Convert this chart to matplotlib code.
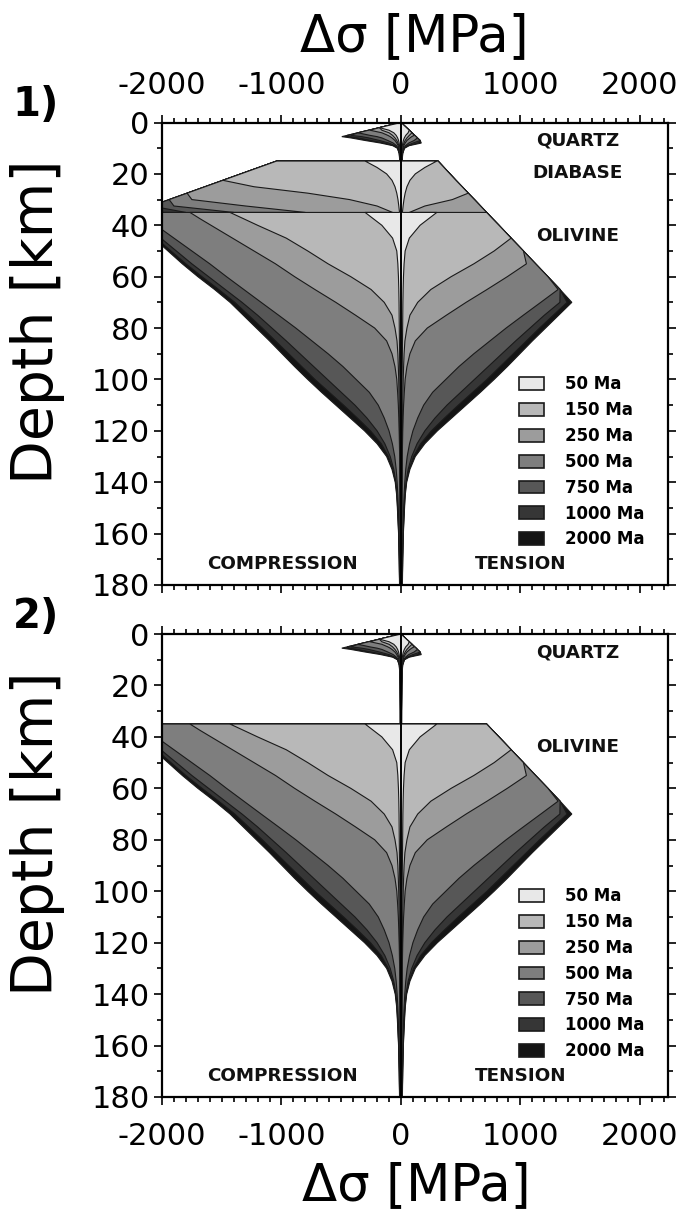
#!/usr/bin/env python3
# -*- coding: utf-8 -*-

import numpy as np
import matplotlib
matplotlib.use("Agg")
import matplotlib.pyplot as plt
from matplotlib.patches import Patch
from matplotlib.ticker import MultipleLocator

# hifen simples nos rotulos, como no original
plt.rcParams["axes.unicode_minus"] = False


# -------------------------------------------------
# dados (MPa, km)
# -------------------------------------------------

AGES = ["50 Ma", "150 Ma", "250 Ma", "500 Ma", "750 Ma", "1000 Ma", "2000 Ma"]
AGE_COLORS = ["#e8e8e8", "#b8b8b8", "#9c9c9c", "#7e7e7e", "#575757", "#363636", "#141414"]

# quartzo (crosta superior)
QTZ_DEPTH = [0, 1, 2, 3, 4, 5, 5.5, 6, 7, 8, 9, 10, 12, 15, 20, 25, 30, 35]
QTZ_BRITTLE_C = [0, -90, -180, -270, -360, -450, -495, -540, -630, -720, -810, -900,
                 -1080, -1350, -1800, -2250, -2700, -3150]
QTZ_BRITTLE_T = [0, 23, 46, 69, 92, 115, 127, 138, 161, 184, 207, 230, 276, 345, 460,
                 575, 690, 805]
QTZ_50 = [2000, 500, 180, 100, 60, 40, 34, 28, 20, 15, 12, 10, 8, 6, 5, 4, 4, 4]
QTZ_150 = [2500, 800, 300, 160, 100, 70, 60, 50, 35, 25, 18, 14, 9, 7, 5, 5, 4, 4]
QTZ_250 = [3000, 1200, 500, 260, 160, 110, 90, 75, 50, 35, 24, 17, 10, 8, 6, 5, 4, 4]
QTZ_500 = [4000, 2000, 1100, 650, 400, 260, 200, 160, 110, 65, 38, 22, 12, 8, 6, 5, 5, 4]
QTZ_750 = [5000, 2600, 1500, 950, 620, 420, 330, 270, 180, 100, 50, 26, 13, 9, 7, 6, 5, 5]
QTZ_1000 = [5000, 2800, 1800, 1200, 830, 580, 430, 360, 250, 140, 60, 28, 14, 9, 7, 6, 5, 5]
QTZ_2000 = [5000, 3000, 2000, 1400, 1000, 680, 496, 420, 300, 170, 70, 30, 15, 10, 7, 6, 5, 5]

# diabasio (crosta inferior, so no painel 1)
DIA_DEPTH = [15, 17.5, 20, 22.5, 25, 27.5, 30, 32.5, 35]
DIA_BRITTLE_C = [-1040, -1190, -1340, -1490, -1640, -1790, -1940, -2090, -2240]
DIA_BRITTLE_T = [310, 360, 410, 460, 512, 563, 615, 666, 717]
DIA_50 = [300, 200, 120, 75, 50, 35, 25, 18, 12]
DIA_150 = [2600, 2300, 2000, 1700, 1230, 780, 430, 200, 70]
DIA_250 = [3200, 2900, 2700, 2500, 2300, 2050, 1750, 1300, 800]
DIA_500 = [3500, 3200, 3000, 2800, 2600, 2450, 2300, 1900, 1400]
DIA_750 = [3700, 3400, 3200, 3000, 2800, 2650, 2500, 2200, 1800]
DIA_1000 = [3800, 3500, 3300, 3100, 2900, 2750, 2600, 2400, 2100]
DIA_2000 = [4000, 3700, 3500, 3300, 3100, 2950, 2800, 2600, 2400]

# olivina (manto)
OLV_DEPTH = [35, 37.5, 40, 45, 50, 55, 60, 65, 70, 75, 80, 85, 90, 95, 100, 105, 110,
             115, 120, 125, 130, 135, 140, 145, 150, 160, 170, 180]
OLV_BRITTLE_T = [717, 768, 820, 922, 1025, 1127, 1230, 1332, 1435, 1537, 1640, 1742,
                 1845, 1947, 2050, 2152, 2255, 2357, 2460, 2562, 2665, 2767, 2870,
                 2972, 3075, 3280, 3485, 3690]
OLV_50 = [300, 230, 160, 70, 35, 26, 21, 18, 16, 15, 14, 13, 12, 11, 10, 10, 9, 9, 8, 8,
          7, 7, 7, 6, 6, 5, 5, 4]
OLV_150 = [1431, 1315, 1200, 960, 780, 610, 420, 250, 140, 75, 50, 33, 26, 22, 19, 17,
           15, 13, 12, 11, 10, 9, 8, 8, 7, 6, 6, 5]
OLV_250 = [1766, 1680, 1590, 1410, 1230, 1050, 890, 720, 545, 380, 220, 120, 75, 50, 35,
           28, 22, 18, 15, 13, 11, 10, 9, 8, 8, 7, 6, 5]
OLV_500 = [2200, 2125, 2050, 1900, 1750, 1600, 1460, 1315, 1170, 1024, 880, 745, 610,
           485, 375, 265, 190, 140, 100, 72, 52, 40, 32, 26, 22, 16, 12, 10]
OLV_750 = [2280, 2215, 2150, 2010, 1880, 1750, 1610, 1470, 1330, 1200, 1080, 960, 845,
           730, 615, 500, 385, 285, 200, 135, 90, 60, 42, 32, 26, 18, 14, 11]
OLV_1000 = [2310, 2245, 2180, 2050, 1925, 1800, 1665, 1525, 1390, 1275, 1160, 1050, 940,
            830, 720, 600, 480, 365, 255, 165, 105, 68, 45, 34, 28, 19, 14, 11]
OLV_2000 = [2330, 2265, 2200, 2070, 1950, 1830, 1700, 1560, 1430, 1320, 1210, 1100, 995,
            890, 780, 665, 545, 425, 305, 200, 120, 75, 48, 36, 30, 20, 15, 12]

QTZ_DUCTILE = [QTZ_50, QTZ_150, QTZ_250, QTZ_500, QTZ_750, QTZ_1000, QTZ_2000]
DIA_DUCTILE = [DIA_50, DIA_150, DIA_250, DIA_500, DIA_750, DIA_1000, DIA_2000]
OLV_DUCTILE = [OLV_50, OLV_150, OLV_250, OLV_500, OLV_750, OLV_1000, OLV_2000]

XTICKS = [-2000, -1000, 0, 1000, 2000]
YTICKS = [0, 20, 40, 60, 80, 100, 120, 140, 160, 180]

W, H = 679, 1214


# -------------------------------------------------
# envelope de resistencia de uma idade
# -------------------------------------------------

def envelope(i, diabase):

    q_depth = np.array(QTZ_DEPTH, dtype=float)
    q_duct = np.array(QTZ_DUCTILE[i], dtype=float)
    q_base = 15 if diabase else 35
    m = q_depth <= q_base

    depth = [q_depth[m]]
    tens = [np.minimum(np.array(QTZ_BRITTLE_T)[m], q_duct[m])]
    comp = [np.maximum(np.array(QTZ_BRITTLE_C)[m], -q_duct[m])]

    if diabase:
        d_duct = np.array(DIA_DUCTILE[i], dtype=float)
        depth.append(np.array(DIA_DEPTH, dtype=float))
        tens.append(np.minimum(DIA_BRITTLE_T, d_duct))
        comp.append(np.maximum(DIA_BRITTLE_C, -d_duct))

    o_duct = np.array(OLV_DUCTILE[i], dtype=float)
    depth.append(np.array(OLV_DEPTH, dtype=float))
    tens.append(np.minimum(OLV_BRITTLE_T, o_duct))
    comp.append(-o_duct)

    depth = np.concatenate(depth)
    tens = np.concatenate(tens)
    comp = np.concatenate(comp)

    x = np.concatenate([tens, comp[::-1]])
    y = np.concatenate([depth, depth[::-1]])
    return x, y


# -------------------------------------------------
# um painel
# -------------------------------------------------

def draw_panel(ax, diabase, top_labels):

    # do mais velho (maior) para o mais novo
    for i in range(len(AGES) - 1, -1, -1):
        x, y = envelope(i, diabase)
        ax.fill(x, y, facecolor=AGE_COLORS[i], edgecolor="#1a1a1a",
                linewidth=0.8, zorder=2)

    ax.axvline(0, color="black", linewidth=1.4, zorder=3)

    ax.set_xlim(-2000, 2235)
    ax.set_ylim(180, 0)
    ax.set_xticks(XTICKS)
    ax.set_yticks(YTICKS)
    ax.xaxis.set_minor_locator(MultipleLocator(100))
    ax.yaxis.set_minor_locator(MultipleLocator(10))

    ax.tick_params(which="both", direction="out", top=True, right=True,
                   bottom=True, left=True, width=1.2, labelsize=22)
    ax.tick_params(which="major", length=6)
    ax.tick_params(which="minor", length=3.5)
    ax.tick_params(axis="y", pad=3)
    ax.tick_params(axis="x", labeltop=top_labels, labelbottom=not top_labels,
                   pad=10 if top_labels else 12)

    for s in ax.spines.values():
        s.set_linewidth(1.6)

    bold = dict(fontsize=13.2, fontweight="bold", ha="center", va="center",
                transform=ax.transAxes, color="#111111")
    ax.text(0.822, 0.960, "QUARTZ", **bold)
    if diabase:
        ax.text(0.822, 0.891, "DIABASE", **bold)
    ax.text(0.822, 0.755, "OLIVINE", **bold)
    ax.text(0.239, 0.045, "COMPRESSION", **bold)
    ax.text(0.708, 0.045, "TENSION", **bold)

    handles = [Patch(facecolor=c, edgecolor="#1a1a1a", linewidth=1.2)
               for c in AGE_COLORS]
    ax.legend(handles, AGES, loc="upper left", bbox_to_anchor=(0.705, 0.453),
              frameon=False, prop=dict(weight="bold", size=12),
              handlelength=1.5, handleheight=0.8, handletextpad=1.3,
              labelspacing=0.47, borderpad=0, borderaxespad=0)


# -------------------------------------------------
# main
# -------------------------------------------------

def main():

    fig = plt.figure(figsize=(W / 100, H / 100), dpi=100)

    def px_axes(x0, y0, x1, y1):
        return fig.add_axes([x0 / W, 1 - y1 / H, (x1 - x0) / W, (y1 - y0) / H])

    ax1 = px_axes(162, 122.5, 668, 585)
    ax2 = px_axes(162, 634, 668, 1097)

    draw_panel(ax1, diabase=True, top_labels=True)
    draw_panel(ax2, diabase=False, top_labels=False)

    fig.text(414 / W, 1 - 37 / H, "Δσ [MPa]", fontsize=37, ha="center", va="center")
    fig.text(416 / W, 1 - 1186 / H, "Δσ [MPa]", fontsize=37, ha="center", va="center")

    fig.text(36 / W, 1 - 105 / H, "1)", fontsize=29, fontweight="bold",
             ha="center", va="center")
    fig.text(36 / W, 1 - 617 / H, "2)", fontsize=29, fontweight="bold",
             ha="center", va="center")

    fig.text(38 / W, 1 - 322 / H, "Depth [km]", rotation=90, fontsize=41,
             ha="center", va="center")
    fig.text(38 / W, 1 - 834 / H, "Depth [km]", rotation=90, fontsize=41,
             ha="center", va="center")

    fig.savefig("out.png", dpi=100)


if __name__ == "__main__":
    main()
